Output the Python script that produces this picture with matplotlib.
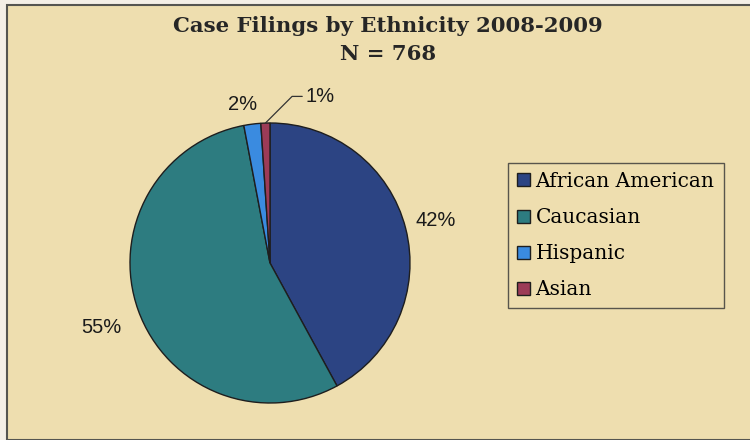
import numpy as np
import matplotlib
matplotlib.use("Agg")
import matplotlib.pyplot as plt
from matplotlib.patches import Rectangle

categories = ["African American", "Caucasian", "Hispanic", "Asian"]
counts = [323, 422, 15, 8]
pct_labels = ["42%", "55%", "2%", "1%"]
colors = ["#2C4483", "#2D7C80", "#3A8BE0", "#9C3B57"]
title = "Case Filings by Ethnicity 2008-2009\nN = 768"

W, H = 750, 440
fig = plt.figure(figsize=(W / 100, H / 100), dpi=100, facecolor="#F4EFE6")

# parchment panel
fig.patches.append(Rectangle((7 / W, 0), 1, 1 - 5 / H, transform=fig.transFigure,
                             facecolor="#EEDEAF", edgecolor="#555550", linewidth=1.5,
                             zorder=-10))

cx, cy, R = 270, 263, 140
S = R * 1.25
ax = fig.add_axes([(cx - S) / W, (H - cy - S) / H, 2 * S / W, 2 * S / H])
ax.set_zorder(2)
wedges, _ = ax.pie(counts, colors=colors, startangle=90, counterclock=False,
                   wedgeprops=dict(edgecolor="#1E1E1E", linewidth=1.0))
ax.set_xlim(-1.25, 1.25)
ax.set_ylim(-1.25, 1.25)

dists = [1.22, 1.30, 1.14]
xshift = [0.0, 0.02, -0.05]
yshift = [0.0, -0.02, 0.0]
for w, lab, d, dx, dy in zip(wedges[:3], pct_labels[:3], dists, xshift, yshift):
    ang = np.deg2rad((w.theta1 + w.theta2) / 2)
    ax.text(d * np.cos(ang) + dx, d * np.sin(ang) + dy, lab, ha="center",
            va="center", fontsize=14.5, family="Liberation Sans", color="#1A1A1A")

w = wedges[3]
ang = np.deg2rad((w.theta1 + w.theta2) / 2)
ax.annotate(pct_labels[3], xy=(np.cos(ang), np.sin(ang)),
            xytext=(0.25, 1.19), ha="left", va="center",
            fontsize=14.5, family="Liberation Sans", color="#1A1A1A",
            arrowprops=dict(arrowstyle="-", color="#333333", lw=0.9,
                            shrinkA=0, shrinkB=0, relpos=(0, 0.5),
                            connectionstyle="angle,angleA=0,angleB=45,rad=0"))

fig.text(388 / W, 1 - 40 / H, title, ha="center", va="center", fontsize=15.3,
         family="DejaVu Serif", fontweight="bold", color="#262626",
         linespacing=1.5)

leg = fig.legend(wedges, categories, loc="upper left",
                 bbox_to_anchor=(508 / W, 1 - 163 / H), frameon=True,
                 prop=dict(family="DejaVu Serif", size=14.5),
                 handlelength=0.62, handleheight=0.62, handletextpad=0.3,
                 labelspacing=0.85, borderpad=0.45, fancybox=False,
                 borderaxespad=0)
fr = leg.get_frame()
fr.set_facecolor("none")
fr.set_edgecolor("#333333")
fr.set_linewidth(1.0)

fig.savefig("out.png", dpi=100, facecolor=fig.get_facecolor())
